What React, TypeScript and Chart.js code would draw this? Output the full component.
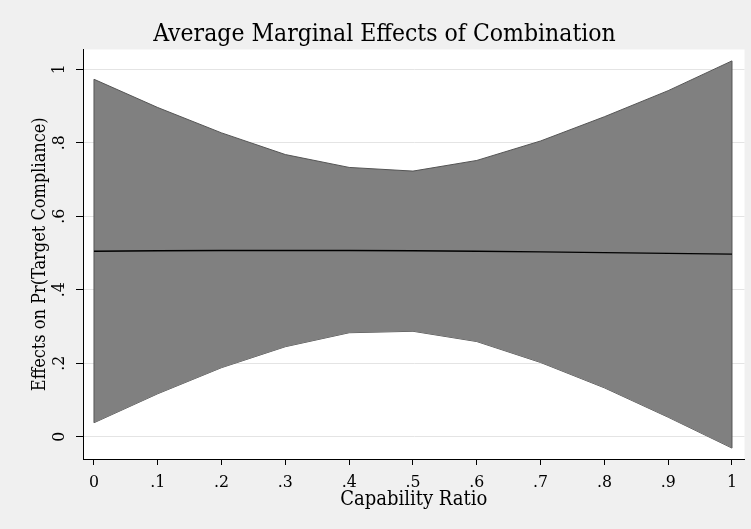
import React, { useEffect, useRef } from "react";
import { Chart, registerables } from "chart.js";

Chart.register(...registerables);

const xValues = [0, 0.1, 0.2, 0.3, 0.4, 0.5, 0.6, 0.7, 0.8, 0.9, 1];
const upperCI = [0.973, 0.896, 0.827, 0.768, 0.733, 0.723, 0.752, 0.805, 0.871, 0.942, 1.023];
const lowerCI = [0.038, 0.117, 0.188, 0.245, 0.283, 0.287, 0.259, 0.202, 0.133, 0.053, -0.031];
const marginalEffect = [0.505, 0.506, 0.507, 0.507, 0.507, 0.506, 0.505, 0.503, 0.501, 0.499, 0.497];

const xTicks = [0, 0.1, 0.2, 0.3, 0.4, 0.5, 0.6, 0.7, 0.8, 0.9, 1];
const xTickLabels = ["0", ".1", ".2", ".3", ".4", ".5", ".6", ".7", ".8", ".9", "1"];
const yTicks = [0, 0.2, 0.4, 0.6, 0.8, 1];
const yTickLabels = ["0", ".2", ".4", ".6", ".8", "1"];

const titleText = "Average Marginal Effects of Combination";
const xTitle = "Capability Ratio";
const yTitle = "Effects on Pr(Target Compliance)";

const FONT = "'DejaVu Serif Condensed', 'DejaVu Serif', serif";

export default function App() {
  const ref = useRef<HTMLCanvasElement | null>(null);

  useEffect(() => {
    if (!ref.current) return;
    const pts = (ys: number[]) => xValues.map((x, i) => ({ x, y: ys[i] }));
    const last = xValues.length - 1;
    const plotBg = {
      id: "plotBg",
      beforeDraw(chart: any) {
        const { ctx, chartArea } = chart;
        ctx.save();
        ctx.fillStyle = "#ffffff";
        ctx.fillRect(chartArea.left, chartArea.top, chartArea.right - chartArea.left, chartArea.bottom - chartArea.top);
        ctx.restore();
      },
    };
    const chart = new Chart(ref.current, {
      type: "line",
      data: {
        datasets: [
          {
            data: pts(upperCI),
            borderColor: "#555555",
            borderWidth: 1,
            backgroundColor: "#808080",
            fill: "+1",
            pointRadius: 0,
            tension: 0,
            order: 2,
          },
          {
            data: pts(lowerCI),
            borderColor: "#555555",
            borderWidth: 1,
            backgroundColor: "#808080",
            fill: false,
            pointRadius: 0,
            tension: 0,
            order: 2,
          },
          {
            data: [
              { x: xValues[0], y: lowerCI[0] },
              { x: xValues[0], y: upperCI[0] },
            ],
            borderColor: "#555555",
            borderWidth: 1,
            fill: false,
            pointRadius: 0,
            order: 1,
          },
          {
            data: [
              { x: xValues[last], y: lowerCI[last] },
              { x: xValues[last], y: upperCI[last] },
            ],
            borderColor: "#555555",
            borderWidth: 1,
            fill: false,
            pointRadius: 0,
            order: 1,
          },
          {
            data: pts(marginalEffect),
            borderColor: "#000000",
            borderWidth: 1.4,
            fill: false,
            pointRadius: 0,
            tension: 0,
            order: 0,
          },
        ],
      },
      options: {
        responsive: false,
        animation: false,
        layout: { padding: { left: 24.5, right: 6.5, top: 0, bottom: 0 } },
        plugins: {
          legend: { display: false },
          tooltip: { enabled: false },
          title: {
            display: true,
            text: titleText,
            color: "#000",
            font: { family: FONT, size: 24.5, weight: "normal" },
            padding: { top: 20.1, bottom: 0 },
          },
        },
        scales: {
          x: {
            type: "linear",
            min: -0.0172,
            max: 1.0196,
            afterBuildTicks: (s: any) => {
              s.ticks = xTicks.map((v) => ({ value: v }));
            },
            afterFit: (s: any) => {
              s.height = 70;
            },
            ticks: {
              autoSkip: false,
              maxRotation: 0,
              minRotation: 0,
              color: "#000",
              padding: 7,
              font: { family: FONT, size: 17.5 },
              callback: (_v: any, i: number) => xTickLabels[i],
            },
            grid: {
              drawOnChartArea: false,
              tickLength: 6,
              tickColor: "#000",
              color: "#000",
            },
            border: { display: true, color: "#000", width: 1 },
            title: {
              display: true,
              text: xTitle,
              color: "#000",
              font: { family: FONT, size: 20 },
              padding: { top: 0, bottom: 17.5 },
            },
          },
          y: {
            type: "linear",
            min: -0.0607,
            max: 1.054,
            afterBuildTicks: (s: any) => {
              s.ticks = yTicks.map((v) => ({ value: v }));
            },
            afterFit: (s: any) => {
              s.width = 58.5;
            },
            ticks: {
              autoSkip: false,
              minRotation: 90,
              maxRotation: 90,
              crossAlign: "center",
              color: "#000",
              padding: 9,
              font: { family: FONT, size: 17.5 },
              callback: (_v: any, i: number) => yTickLabels[i],
            },
            grid: {
              color: "#e4e4e4",
              lineWidth: 1,
              tickLength: 7,
              tickColor: "#000",
            },
            border: { display: true, color: "#000", width: 1 },
            title: {
              display: true,
              text: yTitle,
              color: "#000",
              font: { family: FONT, size: 18 },
              padding: { top: 4.7, bottom: 0 },
            },
          },
        },
      },
      plugins: [plotBg],
    } as any);
    return () => chart.destroy();
  }, []);

  return (
    <div style={{ position: "fixed", left: 0, top: 0, width: 751, height: 529, background: "#f0f0f0" }}>
      <canvas ref={ref} width={751} height={529} style={{ display: "block" }} />
    </div>
  );
}
